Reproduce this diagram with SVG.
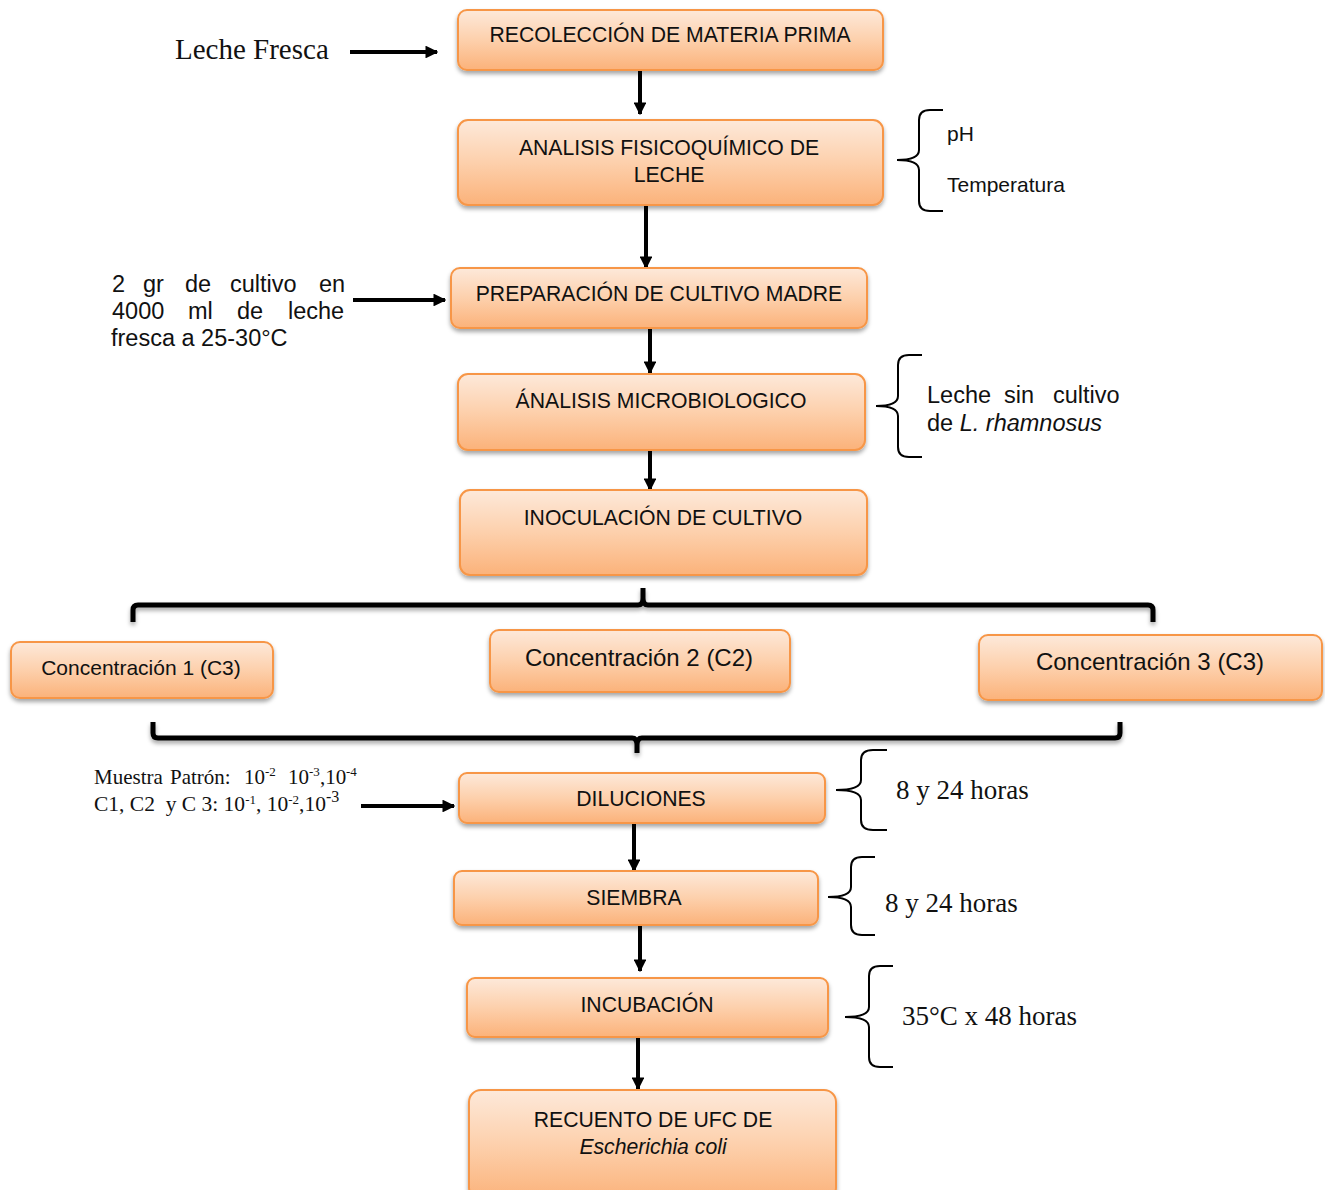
<svg xmlns="http://www.w3.org/2000/svg" width="1325" height="1190" viewBox="0 0 1325 1190">
<defs>
<linearGradient id="g" x1="0" y1="0" x2="0" y2="1">
<stop offset="0" stop-color="#fde9da"/>
<stop offset="0.5" stop-color="#fdd0ac"/>
<stop offset="1" stop-color="#fbb27a"/>
</linearGradient>
<filter id="sh" x="-10%" y="-20%" width="120%" height="150%">
<feDropShadow dx="0" dy="3" stdDeviation="2" flood-color="#000" flood-opacity="0.35"/>
</filter>
<marker id="ah" viewBox="0 0 10 10" refX="9" refY="5" markerWidth="3.2" markerHeight="3.2" orient="auto" markerUnits="strokeWidth">
<path d="M0,0 L10,5 L0,10 z" fill="#000"/>
</marker>
</defs>
<style>
.box{fill:url(#g);stroke:#f79646;stroke-width:2;filter:url(#sh)}
.t{font-family:"Liberation Sans",Arial,sans-serif;font-size:21.2px;fill:#111;text-anchor:middle}
.s{font-family:"Liberation Sans",Arial,sans-serif;fill:#111}
.r{font-family:"Liberation Serif","Times New Roman",serif;fill:#111}
.ar{stroke:#000;stroke-width:4;fill:none;marker-end:url(#ah)}
.br{stroke:#000;stroke-width:2;fill:none}
.bb{stroke:#000;stroke-width:5;fill:none;stroke-linejoin:round;filter:url(#sh)}
</style>
<rect width="1325" height="1190" fill="#fff"/>

<g id="connectors">
<line class="ar" x1="350" y1="52" x2="437" y2="52"/>
<line class="ar" x1="640" y1="70" x2="640" y2="114"/>
<line class="ar" x1="646" y1="205" x2="646" y2="268"/>
<line class="ar" x1="353" y1="300" x2="445" y2="300"/>
<line class="ar" x1="650" y1="328" x2="650" y2="373"/>
<line class="ar" x1="650" y1="450" x2="650" y2="490"/>
<line class="ar" x1="361" y1="806" x2="454" y2="806"/>
<line class="ar" x1="634" y1="823" x2="634" y2="871"/>
<line class="ar" x1="640" y1="925" x2="640" y2="971"/>
<line class="ar" x1="638" y1="1037" x2="638" y2="1089"/>
<path class="bb" d="M133,622 L133,610 Q133,605 138,605 L638,605 Q643,605 643,598 L643,588 M643,598 Q643,605 648,605 L1148,605 Q1153,605 1153,610 L1153,622"/>
<path class="bb" d="M153,722 L153,733 Q153,738 158,738 L632,738 Q637,738 637,745 L637,753 M637,745 Q637,738 642,738 L1115,738 Q1120,738 1120,733 L1120,722"/>
<path class="br" d="M943,110 L930,110 Q919,110 919,120 L919,150 Q919,160 897,160 Q919,160 919,170 L919,201 Q919,211 930,211 L943,211"/>
<path class="br" d="M922,355 L909,355 Q898,355 898,365 L898,396 Q898,406 876,406 Q898,406 898,416 L898,447 Q898,457 909,457 L922,457"/>
<path class="br" d="M887,750 L873,750 Q861,750 861,760 L861,780 Q861,790 836,790 Q861,790 861,800 L861,820 Q861,830 873,830 L887,830"/>
<path class="br" d="M875,857 L862,857 Q851,857 851,867 L851,887 Q851,897 828,897 Q851,897 851,907 L851,925 Q851,935 862,935 L875,935"/>
<path class="br" d="M893,966 L880,966 Q869,966 869,976 L869,1007 Q869,1017 845,1017 Q869,1017 869,1027 L869,1057 Q869,1067 880,1067 L893,1067"/>
</g>

<g id="n1"><rect class="box" x="458" y="10" width="425" height="60" rx="9"/><text class="t" x="670" y="42">RECOLECCIÓN DE MATERIA PRIMA</text></g>
<g id="n2"><rect class="box" x="458" y="120" width="425" height="85" rx="10"/><text class="t" x="669" y="155">ANALISIS FISICOQUÍMICO DE</text><text class="t" x="669" y="182">LECHE</text></g>
<g id="n3"><rect class="box" x="451" y="268" width="416" height="60" rx="9"/><text class="t" x="659" y="301">PREPARACIÓN DE CULTIVO MADRE</text></g>
<g id="n4"><rect class="box" x="458" y="374" width="407" height="76" rx="10"/><text class="t" x="661" y="408">ÁNALISIS MICROBIOLOGICO</text></g>
<g id="n5"><rect class="box" x="460" y="490" width="407" height="85" rx="10"/><text class="t" x="663" y="525">INOCULACIÓN DE CULTIVO</text></g>
<g id="n6"><rect class="box" x="11" y="642" width="262" height="56" rx="9"/><text class="t" x="141" y="675" style="font-size:21px">Concentración 1 (C3)</text></g>
<g id="n7"><rect class="box" x="490" y="630" width="300" height="62" rx="9"/><text class="t" x="639" y="666" style="font-size:24px">Concentración 2 (C2)</text></g>
<g id="n8"><rect class="box" x="979" y="635" width="343" height="65" rx="9"/><text class="t" x="1150" y="670" style="font-size:24px">Concentración 3 (C3)</text></g>
<g id="n9"><rect class="box" x="459" y="773" width="366" height="50" rx="8"/><text class="t" x="641" y="806">DILUCIONES</text></g>
<g id="n10"><rect class="box" x="454" y="871" width="364" height="54" rx="8"/><text class="t" x="634" y="905">SIEMBRA</text></g>
<g id="n11"><rect class="box" x="467" y="978" width="361" height="59" rx="8"/><text class="t" x="647" y="1012">INCUBACIÓN</text></g>
<g id="n12"><rect class="box" x="469" y="1090" width="367" height="110" rx="12"/><text class="t" x="653" y="1127">RECUENTO DE UFC DE</text><text class="t" x="653" y="1154" font-style="italic">Escherichia coli</text></g>

<g id="labels">
<text class="r" x="175" y="59" font-size="29">Leche Fresca</text>
<text class="s" font-size="23.5"><tspan x="112" y="292">2</tspan><tspan x="143" y="292">gr</tspan><tspan x="185" y="292">de</tspan><tspan x="230" y="292">cultivo</tspan><tspan x="319" y="292">en</tspan><tspan x="112" y="319">4000</tspan><tspan x="188" y="319">ml</tspan><tspan x="237" y="319">de</tspan><tspan x="288" y="319">leche</tspan><tspan x="111" y="346">fresca a 25-30°C</tspan></text>
<text class="s" x="947" y="141" font-size="21">pH</text>
<text class="s" x="947" y="192" font-size="21">Temperatura</text>
<text class="s" font-size="23.5"><tspan x="927" y="403">Leche</tspan><tspan x="1004" y="403">sin</tspan><tspan x="1053" y="403">cultivo</tspan><tspan x="927" y="431">de <tspan font-style="italic">L. rhamnosus</tspan></tspan></text>
<text class="r" font-size="21"><tspan x="94" y="784">Muestra</tspan><tspan x="170" y="784">Patrón:</tspan><tspan x="244" y="784">10</tspan><tspan x="265" y="776" font-size="13">-2</tspan><tspan x="288" y="784">10</tspan><tspan x="309" y="776" font-size="13">-3</tspan><tspan x="320" y="784">,10</tspan><tspan x="346" y="776" font-size="13">-4</tspan></text>
<text class="r" x="94" y="811" font-size="21.5" xml:space="preserve">C1, C2  y C 3: 10<tspan font-size="13" dy="-7">-1</tspan><tspan dy="7">, 10</tspan><tspan font-size="13" dy="-7">-2</tspan><tspan dy="7">,10</tspan><tspan font-size="16" dy="-9">-3</tspan></text>
<text class="r" x="896" y="799" font-size="27">8 y 24 horas</text>
<text class="r" x="885" y="912" font-size="27">8 y 24 horas</text>
<text class="r" x="902" y="1025" font-size="27">35°C x 48 horas</text>
</g>
</svg>
